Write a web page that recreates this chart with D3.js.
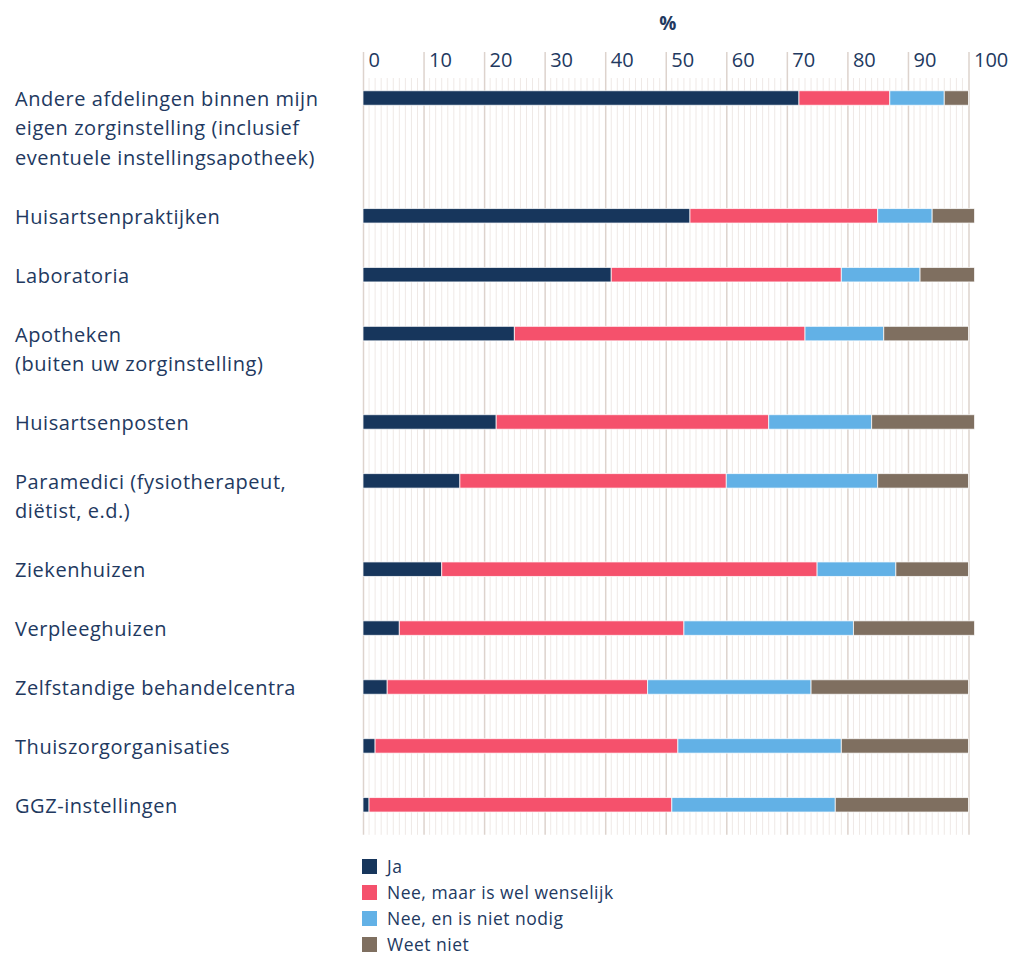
<!DOCTYPE html>
<html>
<head>
<meta charset="utf-8">
<script src="https://cdn.jsdelivr.net/npm/d3@7"></script>
<style>
  html, body { margin: 0; padding: 0; background: #ffffff; }
  svg { display: block; }
  text { font-family: "Open Sans", Lato, sans-serif; }
</style>
</head>
<body>
<svg id="chart" width="1024" height="955"></svg>
<script>
// ---- data ----
const categories = [
  ["Andere afdelingen binnen mijn", "eigen zorginstelling (inclusief", "eventuele instellingsapotheek)"],
  ["Huisartsenpraktijken"],
  ["Laboratoria"],
  ["Apotheken", "(buiten uw zorginstelling)"],
  ["Huisartsenposten"],
  ["Paramedici (fysiotherapeut,", "diëtist, e.d.)"],
  ["Ziekenhuizen"],
  ["Verpleeghuizen"],
  ["Zelfstandige behandelcentra"],
  ["Thuiszorgorganisaties"],
  ["GGZ-instellingen"]
];
const seriesNames = ["Ja", "Nee, maar is wel wenselijk", "Nee, en is niet nodig", "Weet niet"];
const ja          = [72, 54, 41, 25, 22, 16, 13,  6,  4,  2,  1];
const neeWenselijk= [15, 31, 38, 48, 45, 44, 62, 47, 43, 50, 50];
const neeNietNodig= [ 9,  9, 13, 13, 17, 25, 13, 28, 27, 27, 27];
const weetNiet    = [ 4,  7,  9, 14, 17, 15, 12, 20, 26, 21, 22];
const tickValues  = [0, 10, 20, 30, 40, 50, 60, 70, 80, 90, 100];
const axisTitle = "%";
const colors = ["#17365c", "#f5516c", "#62b1e6", "#7f6f60"];

// ---- layout ----
const svg = d3.select("#chart");
const textColor = "#22395f";
const x = d3.scaleLinear().domain([0, 100]).range([363, 968.5]);

// each row occupies (lines + 1) line-units
let cum = 0;
const rowLine = categories.map(c => { const v = cum; cum += c.length + 1; return v; });
const yLine = d3.scaleLinear().domain([0, 1]).range([98, 98 + 29.45]);
const rowY = rowLine.map(l => yLine(l));
const gridBottom = rowY[rowY.length - 1] + 30;

// grid: minor lines every 1 unit
const minor = d3.range(0, 101).filter(v => v % 10 !== 0);
svg.append("g").selectAll("line").data(minor).join("line")
  .attr("x1", d => x(d)).attr("x2", d => x(d))
  .attr("y1", 78).attr("y2", gridBottom)
  .attr("stroke", "#efe9e6").attr("stroke-width", 1);

// major axis with ticks extending through chart
const axis = d3.axisTop(x).tickValues(tickValues).tickSize(0).tickFormat(d3.format("d"));
const gAxis = svg.append("g").attr("transform", "translate(0,52)").call(axis);
gAxis.select(".domain").remove();
gAxis.selectAll(".tick line")
  .attr("y1", 0).attr("y2", gridBottom - 52)
  .attr("stroke", "#ddd3cd").attr("stroke-width", 1.5);
gAxis.selectAll(".tick text")
  .attr("text-anchor", "start")
  .attr("x", 5).attr("y", 15)
  .attr("font-size", 20).attr("fill", textColor)
  .attr("font-family", "Lato, sans-serif");

// axis title
svg.append("text").attr("x", x(50) + 2).attr("y", 30)
  .attr("text-anchor", "middle").attr("font-size", 19).attr("font-weight", 700)
  .attr("font-family", "Lato, sans-serif")
  .attr("fill", textColor).text(axisTitle);

// stacked data
const rows = categories.map((c, i) => ({ i, vals: [ja[i], neeWenselijk[i], neeNietNodig[i], weetNiet[i]] }));
const segs = [];
rows.forEach(r => {
  let acc = 0;
  r.vals.forEach((v, k) => { segs.push({ row: r.i, k, x0: acc, x1: acc + v }); acc += v; });
});
const barH = 14.5;
svg.append("g").selectAll("rect").data(segs).join("rect")
  .attr("x", d => x(d.x0)).attr("width", d => x(d.x1) - x(d.x0))
  .attr("y", d => rowY[d.row] - barH / 2).attr("height", barH)
  .attr("fill", d => colors[d.k])
  .attr("stroke", "rgba(255,255,255,0.75)").attr("stroke-width", 1);

// category labels
const lbl = svg.append("g");
categories.forEach((lines, i) => {
  const t = lbl.append("text").attr("x", 15).attr("fill", textColor)
    .attr("font-size", 20).attr("font-weight", 400).attr("letter-spacing", 0.55);
  lines.forEach((ln, j) => {
    t.append("tspan").attr("x", 15)
      .attr("y", yLine(rowLine[i] + j) + 8)
      .text(ln);
  });
});

// legend
const lg = svg.append("g").selectAll("g").data(seriesNames).join("g")
  .attr("transform", (d, i) => `translate(362,${859 + i * 26})`);
lg.append("rect").attr("width", 15).attr("height", 15).attr("fill", (d, i) => colors[i]);
lg.append("text").attr("x", 25).attr("y", 13.5).attr("font-size", 17.5).attr("font-weight", 400)
  .attr("letter-spacing", 0.5)
  .attr("fill", textColor).text(d => d);
</script>
</body>
</html>
